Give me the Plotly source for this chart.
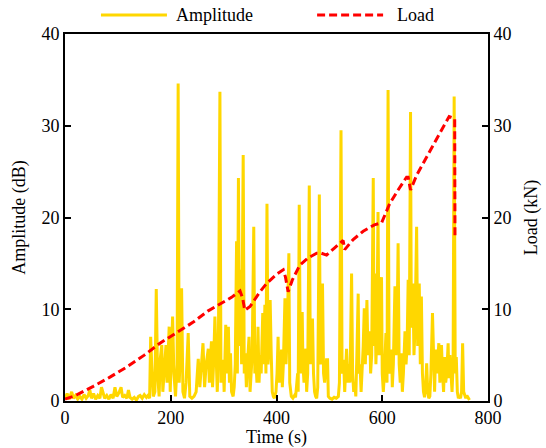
import plotly.graph_objects as go

# Amplitude (dB) vs time (s)
amp_time = [0,4,8,12.6,16,20,24,28,32,36,40,44,47,50,54,58,62,66,69,72,75,79,83,87,91,94.5,98,102,106,109,113,117,120,123,127,131,135,139,142,146,150,154,157,160,
162,164,167,170,172.6,175,178,180,183,185,188,191,193,195,197,199,201,203.5,206,209,212,214,216,218,220.5,223,226,229,233,236,240,244,248,250,252,255,258,261,264,267,271,273,275,277,279,281,283.5,286,288,290,293,295,297,299,301,304,306,309,311,313,315,318,320,322,324.5,326,328,330,332,334,337,339,341,343,345,348,350,352,354,357,359,361,363,365,367,369,371,374,376,378,380,382,384,386,388,390,392,394,396,399,401,403,405,407,409.6,411,413,416,418,420,423.4,425,428,431,434,436,438,440,441,443,445,447,448.6,450,452,453.5,455.6,457,459,462,464,466,468,470,472,474,476,478,481,483,485,487,489,491,493,494.6,496.6,498,501,505,509,513,517,519,522,524,527,529,530.5,532.5,535,537,539,542,544,546,548,550,552,554.5,556,558,560,562,564,566,568,571,573,576.5,578,580,583,584.5,586,588,590,592,594,596,598.6,600,602,604,607,609,611,613,615,617.6,619,621,624,626,628,630,632,634,636,638,640,643,645,647,649,651,653.5,655,656.5,658,660,662,665,667,670,672,674,676,678,680,682,684,686,688,690,692,695,697,699,701,703,705,707,709,710.5,712,714,716,718,720,722,724.6,726,728,730,732,734,736,738,740,742,744,746,748,750,752,754,756,758,760,763,765]
amp_db = [0.3,0.8,0.2,1.0,0.3,0.6,0.2,0.5,0.2,0.7,0.3,0.6,1.2,0.3,0.8,0.2,0.6,0.3,1.5,0.8,0.3,0.6,0.2,0.7,0.3,1.5,0.5,0.9,1.5,0.4,0.6,0.3,1.2,0.4,0.2,0.4,0.1,0.5,0.6,0.3,0.7,0.4,0.6,0.3,
7.0,4.0,0.5,1.0,12.2,3.0,0.5,4.5,6.1,1.0,3.5,6.1,2.0,5.0,8.1,1.0,4.5,9.2,3.0,0.5,4.0,34.6,2.0,5.0,12.3,1.0,0.3,2.0,7.4,0.5,0.3,0.5,1.0,3.0,4.6,1.5,4.6,6.3,1.5,4.0,5.7,2.0,4.5,6.5,1.5,4.0,9.2,3.0,1.0,5.0,33.7,2.0,3.0,4.5,1.0,8.3,3.0,8.1,2.0,5.2,1.0,0.5,1.5,4.0,17.4,3.0,24.3,6.0,14.3,4.0,26.8,3.0,5.2,1.5,4.0,7.0,1.0,3.0,5.0,19.0,3.0,4.5,2.0,8.1,2.0,5.0,3.0,9.6,4.0,10.5,3.0,21.5,4.0,6.0,11.0,5.2,1.0,0.5,0.3,1.0,3.0,7.0,2.0,3.0,5.6,1.5,4.0,11.2,4.0,7.0,16.1,2.0,0.5,0.3,0.6,0.4,1.7,3.0,1.0,21.4,5.0,3.0,9.7,4.0,2.0,5.0,5.7,1.0,3.0,23.5,4.0,6.0,9.0,3.0,1.0,0.5,0.3,1.5,22.5,4.0,6.0,12.8,3.0,2.0,4.0,4.5,4.5,0.5,0.3,0.2,0.4,0.3,0.5,2.0,29.5,3.0,4.5,1.0,3.0,5.7,2.0,4.0,2.0,13.9,3.0,1.0,2.0,0.5,5.0,11.7,3.0,4.0,1.0,3.0,6.0,10.1,4.0,11.0,5.0,7.6,3.0,5.0,24.3,6.0,13.9,4.0,8.0,20.6,5.0,9.0,13.5,3.0,1.0,3.0,7.4,2.0,33.9,3.0,4.0,5.6,1.5,4.0,12.5,5.0,8.0,17.2,4.0,2.0,5.2,1.0,3.0,7.6,4.0,6.0,13.2,5.0,31.5,8.0,10.0,12.8,5.0,8.0,19.0,6.0,12.8,4.0,11.4,3.0,1.0,0.4,1.5,4.1,1.0,0.3,0.5,3.0,9.6,3.0,1.0,5.6,3.0,4.5,6.3,2.0,5.0,6.1,3.0,1.0,4.8,2.0,3.0,6.3,2.5,5.0,3.0,1.0,4.0,33.2,3.0,4.8,1.0,0.3,0.5,0.3,1.0,6.3,1.0,0.5,0.3,0.6,0.3,0.1]

# Load (kN) vs time (s)
load_time = [0,20,53.5,85,116.6,150,179.6,210,242.6,270,293,315,331,336,340,350,368.6,381,400,412.7,417,422,430,444,460,476,485,494.7,510,526,529,545,564,585,598.6,605,614,630,646,649,653.5,665,683.7,709,726.5,737,737.5]
load_kn = [0.2,0.6,1.6,2.6,3.7,5.0,6.3,7.4,8.6,9.8,10.6,11.3,12.0,11.2,9.9,10.3,11.9,12.8,13.8,14.3,13.5,11.9,13.2,14.8,15.6,16.1,16.1,15.9,16.7,17.5,16.5,17.6,18.5,19.2,19.4,20.3,21.5,23.0,24.4,24.4,23.0,24.6,26.6,29.2,31.0,30.8,17.9]

x_ticks = [0, 200, 400, 600, 800]
y_ticks = [0, 10, 20, 30, 40]

YELLOW = "#FFD700"
RED = "#FF0000"
DASH = "8px,4px"
FONT = "Times New Roman"
FS = 18

fig = go.Figure()
fig.add_trace(go.Scatter(x=amp_time, y=amp_db, mode="lines", name="Amplitude",
                         line=dict(color=YELLOW, width=3), showlegend=False))
fig.add_trace(go.Scatter(x=load_time, y=load_kn, mode="lines", name="Load", yaxis="y2",
                         line=dict(color=RED, width=3, dash=DASH), showlegend=False))

axis_common = dict(showgrid=False, zeroline=False, showline=True, linecolor="black", linewidth=2,
                   ticks="inside", ticklen=6, tickwidth=1.5, tickcolor="black", automargin=False,
                   tickfont=dict(family=FONT, size=FS, color="black"))

fig.update_layout(
    width=546, height=448,
    margin=dict(l=65, r=58, t=34, b=47),
    plot_bgcolor="white", paper_bgcolor="white",
    font=dict(family=FONT, size=FS, color="black"),
    xaxis=dict(range=[0, 800], tickvals=x_ticks, mirror=True, ticklabelstandoff=-1,
               title=dict(text="Time (s)", standoff=0, font=dict(family=FONT, size=FS)),
               **axis_common),
    yaxis=dict(range=[0, 40], tickvals=y_ticks,
               title=dict(text="Amplitude (dB)", standoff=11, font=dict(family=FONT, size=FS)),
               **axis_common),
    yaxis2=dict(range=[0, 40], tickvals=y_ticks, overlaying="y", side="right",
                title=dict(text="Load (kN)", standoff=14, font=dict(family=FONT, size=FS)),
                **axis_common),
)

# legend drawn above the plot
LY = 1.052
fig.add_shape(type="line", xref="paper", yref="paper", x0=0.085, x1=0.241, y0=LY, y1=LY,
              line=dict(color=YELLOW, width=3))
fig.add_annotation(xref="paper", yref="paper", x=0.258, y=LY, text="Amplitude", showarrow=False,
                   xanchor="left", yanchor="middle", font=dict(family=FONT, size=FS, color="black"))
fig.add_shape(type="line", xref="paper", yref="paper", x0=0.596, x1=0.752, y0=LY, y1=LY,
              line=dict(color=RED, width=3, dash=DASH))
fig.add_annotation(xref="paper", yref="paper", x=0.780, y=LY, text="Load", showarrow=False,
                   xanchor="left", yanchor="middle", font=dict(family=FONT, size=FS, color="black"))

# remove the page's default 8px body margin so the figure sits at the window origin
fig.write_html("out.html", config={"displayModeBar": False},
               post_script="document.body.style.margin='0px';")
